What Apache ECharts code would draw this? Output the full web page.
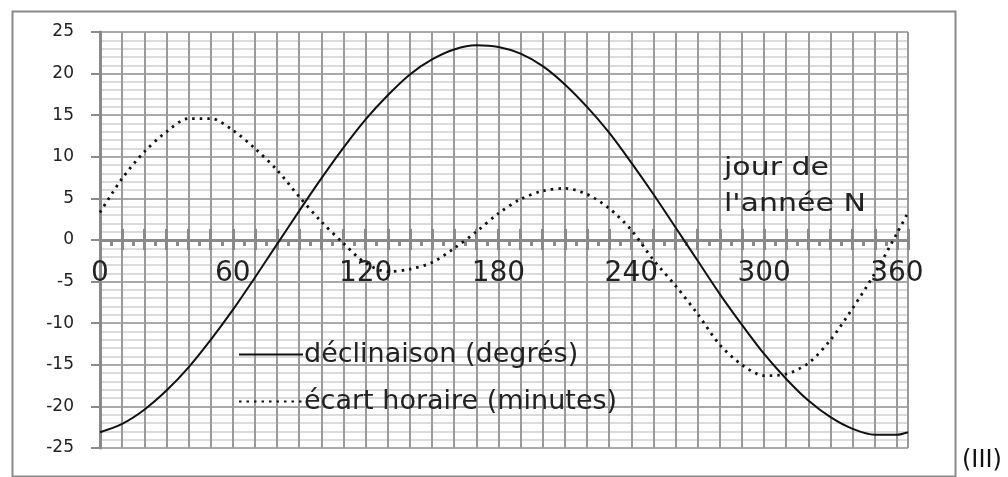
<!DOCTYPE html>
<html>
<head>
<meta charset="utf-8">
<script src="https://cdn.jsdelivr.net/npm/echarts@6/dist/echarts.min.js"></script>
<style>
  html, body { margin: 0; background: #fff; }
  #chart { width: 1008px; height: 477px; }
</style>
</head>
<body>
<div id="chart"></div>
<script>
// jour de l'année N
var days = [0, 10, 20, 30, 40, 50, 60, 70, 80, 90, 100, 110, 120, 130, 140, 150, 160, 170, 180,
  190, 200, 210, 220, 230, 240, 250, 260, 270, 280, 290, 300, 310, 320, 330, 340, 350, 360, 365];
// déclinaison (degrés)
var declinaison = [-23.1, -22.1, -20.4, -18.1, -15.3, -12.0, -8.4, -4.5, -0.5, 3.5, 7.4, 11.1, 14.5,
  17.4, 19.9, 21.7, 22.9, 23.4, 23.2, 22.4, 20.9, 18.7, 16.0, 12.9, 9.3, 5.5, 1.5, -2.5, -6.5,
  -10.2, -13.7, -16.7, -19.3, -21.3, -22.7, -23.4, -23.4, -23.1];
// écart horaire (minutes)
var ecart = [3.3, 7.4, 10.6, 13.0, 14.6, 14.6, 13.2, 11.0, 8.4, 5.2, 2.2, -0.4, -2.8, -3.8, -3.5,
  -2.7, -1.0, 1.0, 3.2, 4.9, 5.9, 6.2, 5.5, 3.8, 1.2, -2.4, -5.5, -8.9, -12.6, -15.0, -16.3,
  -16.1, -14.8, -12.0, -8.2, -4.0, 0.8, 3.3];
var xLabels = [0, 60, 120, 180, 240, 300, 360];

function pairs(ys) {
  return days.map(function (d, i) { return [d, ys[i]]; });
}

var gray = "#8a8a8a";
// plot is 416px high, zero sits halfway
var zeroOffset = -208;
var chart = echarts.init(document.getElementById("chart"));
var option = {
  backgroundColor: "#fff",
  animation: false,
  textStyle: { fontFamily: "DejaVu Sans" },
  grid: { left: 100, right: 100, top: 32, bottom: 29, containLabel: false, outerBoundsMode: "none" },
  legend: {
    orient: "vertical",
    left: 233,
    top: 336,
    itemWidth: 64,
    itemHeight: 14,
    itemGap: 20,
    itemStyle: { opacity: 0 },
    data: ["déclinaison (degrés)", "écart horaire (minutes)"],
    textStyle: { fontSize: 27, color: "#222", fontFamily: "DejaVu Sans", padding: [0, 0, 0, -4] }
  },
  xAxis: [
    {
      type: "value",
      min: 0,
      max: 365,
      interval: 10,
      position: "bottom",
      offset: zeroOffset,
      axisLine: { onZero: false, lineStyle: { color: gray, width: 3 } },
      axisTick: { length: 10, lineStyle: { color: gray, width: 3 } },
      minorTick: { show: true, splitNumber: 2, length: 6, lineStyle: { color: gray, width: 3 } },
      axisLabel: {
        margin: 20,
        fontSize: 28,
        color: "#222",
        showMaxLabel: false,
        formatter: function (v) { return xLabels.indexOf(v) >= 0 ? String(v) : ""; }
      },
      splitLine: { show: true, lineStyle: { color: "#9a9a9a", width: 2 } }
    },
    {
      type: "value",
      min: 0,
      max: 365,
      interval: 10,
      position: "top",
      offset: zeroOffset,
      axisLine: { show: false, onZero: false },
      axisTick: { show: true, length: 11, lineStyle: { color: gray, width: 3 } },
      axisLabel: { show: false },
      splitLine: { show: false }
    }
  ],
  yAxis: {
    type: "value",
    min: -25,
    max: 25,
    interval: 5,
    axisLine: { show: true, onZero: false, lineStyle: { color: gray, width: 3 } },
    axisTick: { show: true, length: 9, lineStyle: { color: gray, width: 2 } },
    axisLabel: { margin: 26, fontSize: 17, color: "#222" },
    splitLine: { show: true, lineStyle: { color: "#8c8c8c", width: 1.5 } },
    minorTick: { show: false, splitNumber: 5 },
    minorSplitLine: { show: true, lineStyle: { color: "#cfcfcf", width: 1.5 } }
  },
  series: [
    {
      name: "déclinaison (degrés)",
      type: "line",
      data: pairs(declinaison),
      smooth: 0.3,
      symbol: "none",
      lineStyle: { color: "#111", width: 2 },
      itemStyle: { color: "#111" },
      z: 5
    },
    {
      name: "écart horaire (minutes)",
      type: "line",
      data: pairs(ecart),
      smooth: 0.3,
      symbol: "none",
      lineStyle: { color: "#111", width: 2.8, type: [2.5, 5] },
      itemStyle: { color: "#111" },
      z: 5
    }
  ],
  graphic: [
    {
      type: "rect",
      left: 10,
      top: 9,
      shape: { width: 943, height: 465 },
      style: { fill: null, stroke: gray, lineWidth: 2 },
      z: -1
    },
    {
      type: "text",
      x: 724,
      y: 150,
      scaleX: 1.2,
      z: 100,
      style: { text: "jour de\nl'année N", fontSize: 25, fontFamily: "DejaVu Sans", fill: "#222", lineHeight: 36 }
    },
    {
      type: "text",
      left: 962,
      top: 449,
      z: 100,
      style: { text: "(III)", fontSize: 24, fontFamily: "DejaVu Sans", fill: "#111" }
    }
  ]
};
chart.setOption(option);
</script>
</body>
</html>
